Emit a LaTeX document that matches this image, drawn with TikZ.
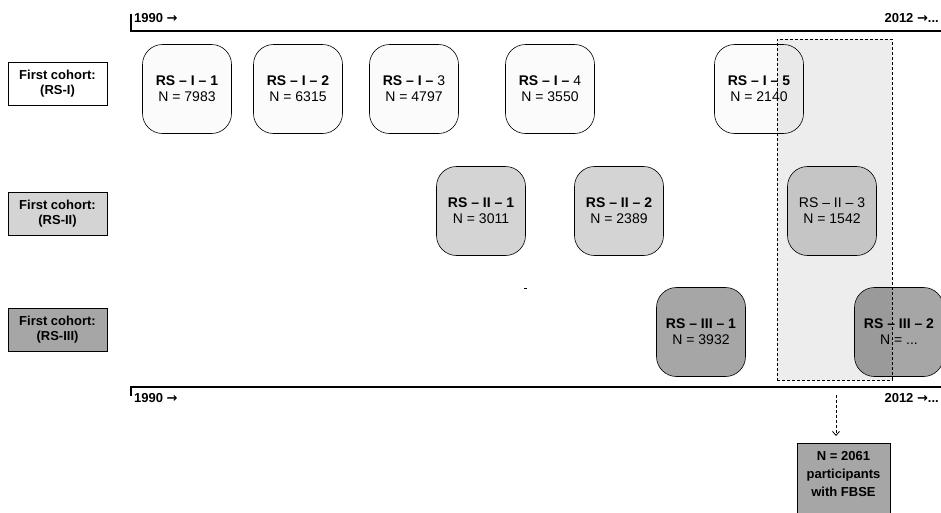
\documentclass[tikz,border=0pt]{standalone}
\usepackage{fontspec}
\setmainfont{Liberation Sans}
\newfontfamily\arrowfont{DejaVu Sans}
\usetikzlibrary{arrows.meta}
\definecolor{wavea}{HTML}{FBFBFB}
\definecolor{waveb}{HTML}{D4D4D4}
\definecolor{wavec}{HTML}{A6A6A6}
\newcommand{\yeararrow}{{\arrowfont\bfseries →}}

\begin{document}
\begin{tikzpicture}[x=1pt,y=-1pt,
  wave/.style={draw,line width=0.6pt,rounded corners=20pt,minimum width=89pt,minimum height=89pt,align=center,inner sep=2pt,font=\fontsize{14}{16}\selectfont},
  cohort/.style={draw,line width=0.6pt,minimum width=99pt,minimum height=43pt,align=center,inner sep=2pt,font=\bfseries\fontsize{13}{15}\selectfont},
  year/.style={inner sep=1pt,font=\bfseries\fontsize{13}{15}\selectfont}]
\useasboundingbox (0,0) rectangle (941,512);

\draw[line width=1.1pt] (131,14) -- (131,31) -- (941,31);
\node[year,anchor=west] (start top) at (133,18) {1990 \yeararrow};
\node[year,anchor=east] (end top) at (940,18) {2012 \yeararrow...};
\draw[line width=1.1pt] (131,396) -- (131,387) -- (941,387);
\node[year,anchor=west] (start bottom) at (133,398) {1990 \yeararrow};
\node[year,anchor=east] (end bottom) at (940,398) {2012 \yeararrow...};

\node[cohort,fill=white] (coh1) at (57.5,83.5) {First cohort:\\(RS-I)};
\node[cohort,fill=waveb] (coh2) at (57.5,213.5) {First cohort:\\(RS-II)};
\node[cohort,fill=wavec] (coh3) at (57.5,330) {First cohort:\\(RS-III)};

\node[wave,fill=wavea] (rsi1) at (187,89) {\textbf{RS – I – 1}\\N = 7983};
\node[wave,fill=wavea] (rsi2) at (298,89) {\textbf{RS – I – 2}\\N = 6315};
\node[wave,fill=wavea] (rsi3) at (414,89) {\textbf{RS – I –} 3\\N = 4797};
\node[wave,fill=wavea] (rsi4) at (550,89) {\textbf{RS – I –} 4\\N = 3550};
\node[wave,fill=wavea] (rsi5) at (759,89) {\textbf{RS – I – 5}\\N = 2140};

\node[wave,fill=waveb] (rsii1) at (481,211) {\textbf{RS – II – 1}\\N = 3011};
\node[wave,fill=waveb] (rsii2) at (619,211) {\textbf{RS – II – 2}\\N = 2389};
\node[wave,fill=waveb] (rsii3) at (832,211) {RS – II – 3\\N = 1542};

\node[wave,fill=wavec] (rsiii1) at (701,332) {\textbf{RS – III – 1}\\N = 3932};
\node[wave,fill=wavec] (rsiii2) at (899,332) {\textbf{RS – III – 2}\\N = ...};

\draw (524,288) -- (527,288);

\node[draw,dashed,dash pattern=on 3pt off 2pt,line width=0.8pt,fill=black,fill opacity=0.07,minimum width=115pt,minimum height=341pt] (window) at (834.5,209.5) {};

\coordinate (drop) at (836,395);
\coordinate (land) at (836,436);
\draw[dashed,dash pattern=on 3pt off 2pt,line width=0.8pt,-{Straight Barb[length=4pt,width=7pt]}] (drop) -- (land);

\draw[line width=0.6pt,fill=wavec] (797,443) rectangle (890,515);
\node[align=center,font=\bfseries\fontsize{13}{18}\selectfont] (fbse) at (843.5,474) {N = 2061\\participants\\with FBSE};
\end{tikzpicture}
\end{document}
